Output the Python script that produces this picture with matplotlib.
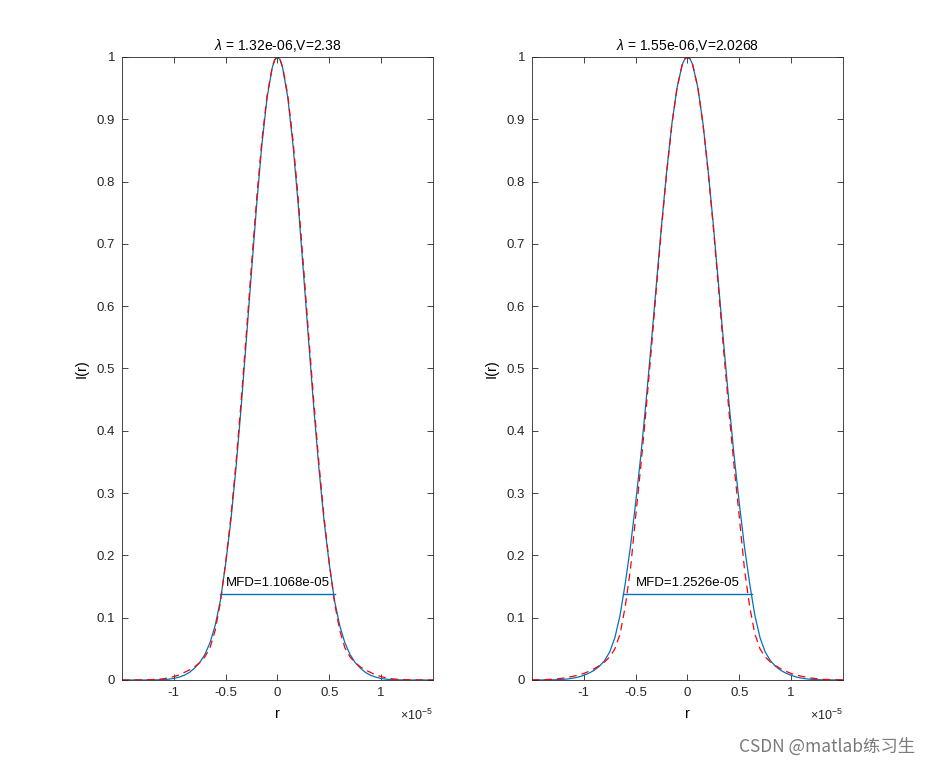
import matplotlib
matplotlib.use("Agg")
import matplotlib.pyplot as plt
import numpy as np

plt.rcParams['font.family'] = ['Liberation Sans', 'DejaVu Sans']
plt.rcParams['mathtext.fontset'] = 'custom'
plt.rcParams['mathtext.it'] = 'Liberation Sans:italic'
plt.rcParams['mathtext.rm'] = 'Liberation Sans'

# half-profile radial positions (units of 1e-5 m), mirrored for negative r
r_half = [0.00, 0.025, 0.05, 0.10, 0.15, 0.20, 0.25, 0.30, 0.35, 0.40, 0.45,
          0.50, 0.55, 0.60, 0.65, 0.70, 0.75, 0.80, 0.85, 0.90, 0.95,
          1.00, 1.05, 1.10, 1.15, 1.20, 1.25, 1.30, 1.35, 1.40, 1.45, 1.50]

# left panel (lambda = 1.32e-06, V = 2.38)
blue_left = [1.000, 0.996, 0.983, 0.935, 0.859, 0.764, 0.656, 0.546, 0.438, 0.340, 0.255,
             0.186, 0.128, 0.088, 0.060, 0.041, 0.028, 0.019, 0.012, 0.0075, 0.0045,
             0.0025, 0.0013, 0.0006, 0.0003, 0.0001, 0.0, 0.0, 0.0, 0.0, 0.0, 0.0]
red_left = [1.000, 0.996, 0.984, 0.938, 0.866, 0.773, 0.667, 0.556, 0.448, 0.348, 0.260,
            0.188, 0.125, 0.080, 0.052, 0.037, 0.028, 0.021, 0.016, 0.012, 0.008,
            0.0055, 0.0035, 0.002, 0.0012, 0.0007, 0.0004, 0.0002, 0.0001, 0.0, 0.0, 0.0]

# right panel (lambda = 1.55e-06, V = 2.0268)
blue_right = [1.000, 0.997, 0.988, 0.951, 0.893, 0.817, 0.730, 0.635, 0.539, 0.446, 0.360,
              0.284, 0.214, 0.155, 0.104, 0.068, 0.045, 0.031, 0.022, 0.0155, 0.011,
              0.0075, 0.0048, 0.003, 0.0018, 0.001, 0.0005, 0.0003, 0.0002, 0.0001, 0.0, 0.0]
red_right = [1.000, 0.997, 0.988, 0.951, 0.892, 0.815, 0.726, 0.628, 0.528, 0.432, 0.343,
             0.262, 0.178, 0.118, 0.074, 0.050, 0.037, 0.029, 0.023, 0.018, 0.014,
             0.0105, 0.008, 0.006, 0.0045, 0.003, 0.002, 0.0012, 0.0008, 0.0005, 0.0003, 0.0002]

titles = [r'$\lambda$ = 1.32e-06,V=2.38', r'$\lambda$ = 1.55e-06,V=2.0268']
mfd_values = [1.1068e-05, 1.2526e-05]
mfd_labels = ['MFD=1.1068e-05', 'MFD=1.2526e-05']
mfd_level = 0.1375
x_ticks = [-1, -0.5, 0, 0.5, 1]
y_ticks = [0, 0.1, 0.2, 0.3, 0.4, 0.5, 0.6, 0.7, 0.8, 0.9, 1]

blue = '#0072BD'
fig = plt.figure(figsize=(9.31, 7.63), dpi=100)
positions = [[0.1310, 0.1088, 0.3340, 0.8165], [0.5714, 0.1088, 0.3340, 0.8165]]
data = [(blue_left, red_left), (blue_right, red_right)]

def mirror(vals):
    return list(vals[::-1]) + list(vals[1:])

r_full = np.array([-v for v in r_half[::-1]] + r_half[1:]) * 1e-5

for i in range(2):
    ax = fig.add_axes(positions[i])
    b, rd = data[i]
    ax.plot(r_full, mirror(b), color=blue, lw=0.9)
    ax.plot(r_full, mirror(rd), color='red', ls=(0, (6, 4)), lw=0.9)
    half = mfd_values[i] / 2
    ax.plot([-half, half], [mfd_level, mfd_level], color=blue, lw=1.0)
    ax.text(-0.5e-5, mfd_level + 0.018, mfd_labels[i], fontsize=9.5, ha='left', va='center')
    ax.set_xlim(-1.5e-5, 1.5e-5)
    ax.set_ylim(0, 1)
    ax.set_xticks([t * 1e-5 for t in x_ticks])
    ax.set_xticklabels([f'{t:g}' for t in x_ticks])
    ax.set_yticks(y_ticks)
    ax.set_yticklabels([f'{t:g}' for t in y_ticks])
    ax.tick_params(direction='in', top=True, right=True, length=4, width=0.6,
                   labelsize=9.5, colors='#262626', pad=5)
    for s in ax.spines.values():
        s.set_linewidth(0.6)
        s.set_color('#262626')
    ax.set_title(titles[i], fontsize=10, pad=5)
    ax.set_xlabel('r', fontsize=10.5, labelpad=6)
    ax.set_ylabel('I(r)', fontsize=10.5, labelpad=6)
    ax.text(1.0, -0.057, r'$\times10^{-5}$', transform=ax.transAxes, fontsize=9,
            ha='right', va='center', color='#262626')

fig.text(0.983, 0.022, 'CSDN @matlab练习生', fontsize=12.5, ha='right', va='center',
         color='#7a7a7a', family=['Noto Sans CJK SC', 'DejaVu Sans'])

fig.savefig('out.png', dpi=100)
